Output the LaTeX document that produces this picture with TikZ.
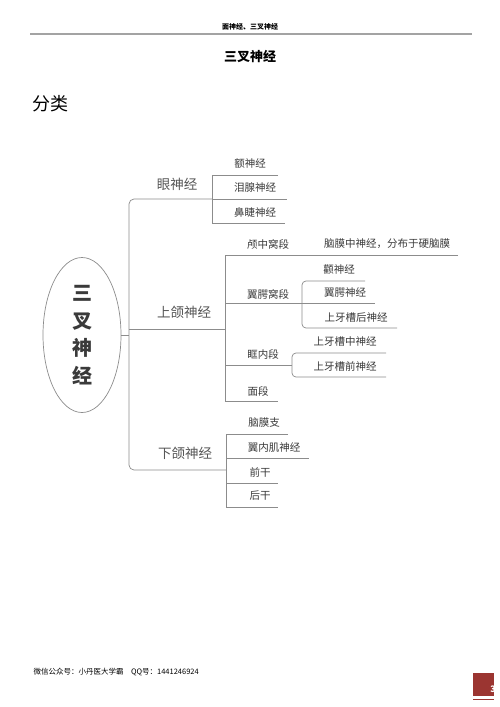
\documentclass[tikz,border=0pt]{standalone}
\usepackage{fontspec}
\setmainfont{Noto Sans CJK SC}
\usetikzlibrary{shapes.geometric}
\definecolor{linegray}{HTML}{8C8C8C}
\definecolor{txtgray}{HTML}{3A3A3A}
\definecolor{pagered}{HTML}{9B3531}

\begin{document}
\begin{tikzpicture}[x=1pt, y=-1pt]
        \tikzstyle{branch}=[draw=linegray, line width=0.7pt]
        \tikzstyle{main}=[text=txtgray!85, font=\fontsize{13.5}{15}\selectfont]
        \tikzstyle{leaf}=[text=txtgray, font=\fontsize{10.5}{12}\selectfont, inner sep=0pt]

        \useasboundingbox[fill=white] (0,0) rectangle (500,707);

        % page header and footer
        \node[font=\fontsize{7}{8}\selectfont\bfseries](head) at (250,27){面神经、三叉神经};
        \coordinate (hl) at (30,34);
        \coordinate (hr) at (472,34);
        \draw[linegray!80, line width=1.5pt] (hl) -- (hr);
        \node[font=\fontsize{13}{15}\selectfont\bfseries](title) at (250,57){三叉神经};
        \node[font=\fontsize{18}{20}\selectfont](cls) at (50,104){分类};
        \node[anchor=west, font=\fontsize{7.5}{9}\selectfont](foot) at (30,672){微信公众号：小丹医大学霸\quad QQ号：1441246924};
        \fill[pagered] (473,673) rectangle (494,696);
        \fill[pagered] (473,698.5) rectangle (494,699.5);
        \node[text=white, font=\fontsize{9}{9}\selectfont\bfseries, inner sep=0pt](pg) at (493,689){3};

        % root
        \node[draw=linegray, line width=0.7pt, shape=ellipse, minimum width=78pt, minimum height=155pt,
              align=center, text=txtgray, font=\fontsize{20}{27.5}\selectfont\bfseries](root) at (82,335){三\\叉\\神\\经};

        % first level
        \coordinate (j0) at (129,335);
        \coordinate (eyeJ) at (212,199);
        \coordinate (maxJ) at (225,329);
        \coordinate (lowJ) at (226,470);
        \draw[branch] (root.east) -- (j0);
        \draw[branch, rounded corners=5pt] (eyeJ) -| (j0) |- (lowJ);
        \draw[branch, rounded corners=3pt] (maxJ -| j0) -- (maxJ);

        \node[main](eye) at (177,184){眼神经};
        \node[main](max) at (184,312){上颌神经};
        \node[main](low) at (185,453){下颌神经};

        % 眼神经
        \coordinate (e1) at (212,175);
        \coordinate (e1e) at (278,175);
        \coordinate (e2e) at (287,199);
        \coordinate (e3) at (212,223);
        \coordinate (e3e) at (285,223);
        \draw[branch] (e1e) -- (e1) -- (e3) -- (e3e);
        \draw[branch] (eyeJ) -- (e2e);
        \node[leaf](e1t) at (250,164){额神经};
        \node[leaf](e2t) at (255,188){泪腺神经};
        \node[leaf](e3t) at (255,212){鼻睫神经};

        % 上颌神经
        \coordinate (m1) at (225,255);
        \coordinate (m1e) at (458,255);
        \coordinate (m2) at (225,303);
        \coordinate (m3) at (225,365);
        \coordinate (m4) at (225,401);
        \coordinate (m4e) at (278,401);
        \draw[branch] (m1e) -- (m1) -- (m4) -- (m4e);
        \node[leaf](m1t) at (268,244){颅中窝段};
        \node[leaf](m1s) at (387,244){脑膜中神经，分布于硬脑膜};
        \node[leaf](m2t) at (268,294){翼腭窝段};
        \node[leaf](m3t) at (263,354){眶内段};
        \node[leaf](m4t) at (258,391){面段};

        % 翼腭窝段
        \coordinate (p1) at (302,281);
        \coordinate (p1e) at (365,281);
        \coordinate (p2e) at (375,303);
        \coordinate (p3) at (302,328);
        \coordinate (p3e) at (397,328);
        \draw[branch, rounded corners=4pt] (p1e) -- (p1) -- (p3) -- (p3e);
        \draw[branch] (m2) -- (p2e);
        \node[leaf](p1t) at (339,270){颧神经};
        \node[leaf](p2t) at (345,293){翼腭神经};
        \node[leaf](p3t) at (356,318){上牙槽后神经};

        % 眶内段
        \coordinate (o0) at (292,365);
        \coordinate (o1) at (292,353);
        \coordinate (o1e) at (386,353);
        \coordinate (o2) at (292,377);
        \coordinate (o2e) at (386,377);
        \draw[branch, rounded corners=4pt] (o1e) -- (o1) -- (o2) -- (o2e);
        \draw[branch] (m3) -- (o0);
        \node[leaf](o1t) at (345,342){上牙槽中神经};
        \node[leaf](o2t) at (345,366){上牙槽前神经};

        % 下颌神经
        \coordinate (d1) at (226,434);
        \coordinate (d1e) at (288,434);
        \coordinate (d2) at (226,458);
        \coordinate (d2e) at (309,458);
        \coordinate (d3) at (226,483);
        \coordinate (d3e) at (278,483);
        \coordinate (d4) at (226,507);
        \coordinate (d4e) at (278,507);
        \draw[branch] (d1e) -- (d1) -- (d4) -- (d4e);
        \draw[branch] (d2) -- (d2e);
        \draw[branch] (d3) -- (d3e);
        \node[leaf](d1t) at (264,423){脑膜支};
        \node[leaf](d2t) at (274,448){翼内肌神经};
        \node[leaf](d3t) at (260,472){前干};
        \node[leaf](d4t) at (260,496){后干};

        \end{tikzpicture}
\end{document}
